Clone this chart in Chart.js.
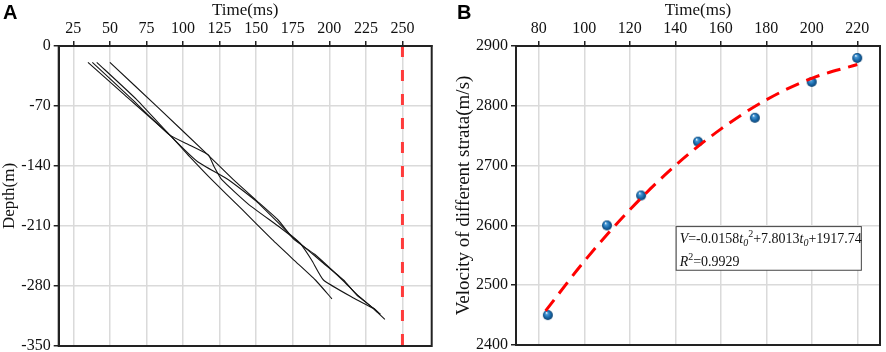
<!DOCTYPE html>
<html>
<head>
<meta charset="utf-8">
<script src="https://cdn.jsdelivr.net/npm/chart.js@4.4.1/dist/chart.umd.min.js"></script>
<style>
  html, body { margin: 0; padding: 0; background: #fff; }
  #wrap { position: relative; width: 886px; height: 352px; }
  canvas { position: absolute; top: 0; }
  #chartA { left: 0; }
  #chartB { left: 440px; }
</style>
</head>
<body>
<div id="wrap">
  <canvas id="chartA" width="440" height="352"></canvas>
  <canvas id="chartB" width="446" height="352"></canvas>
</div>
<script>
// ---- panel A: depth vs. first-arrival time ----
const timeTicksA = [25, 50, 75, 100, 125, 150, 175, 200, 225, 250];
const depthTicks = [-350, -280, -210, -140, -70, 0];

const trace1Time  = [35, 60, 91, 105, 119.6, 140, 161, 176, 190.5, 201.8];
const trace1Depth = [-19, -57, -104, -130, -156, -190, -226, -250, -273, -295];

const trace2Time  = [50, 83, 117, 134.4, 150, 165, 176, 190, 209, 219, 230, 238];
const trace2Depth = [-19, -72, -127, -156, -180, -203, -226, -243, -273, -290, -306, -319];

const trace3Time  = [38, 65, 91, 105, 117.3, 121, 126.5, 145, 165, 177, 195, 209.7, 218.8, 230.3, 235];
const trace3Depth = [-19, -62, -104, -116, -127, -140, -156, -185, -210, -226, -252, -273, -290.5, -306, -313];

const trace4Time  = [41, 68, 91, 110, 131, 150, 172, 180, 188, 196, 216.5, 230, 233];
const trace4Depth = [-19, -62, -104, -135, -156, -181, -218, -230, -250, -273, -294, -306, -311];

const limitTime  = [250, 250];
const limitDepth = [0, -350];

// ---- panel B: stratum velocity vs. time ----
const timeTicksB = [80, 100, 120, 140, 160, 180, 200, 220];
const velTicks   = [2400, 2500, 2600, 2700, 2800, 2900];

const layerTime = [84, 110, 125, 150, 175, 200, 220];
const layerVel  = [2450, 2600, 2650, 2740, 2780, 2840, 2880];

const fitTime = [83, 100, 120, 140, 160, 180, 200, 220];
const fitVel  = [2457, 2540, 2626, 2700, 2761, 2810, 2846, 2869];

const SERIF = "'Liberation Serif', 'Times New Roman', serif";
const SANS = "'Liberation Sans', Arial, sans-serif";

const pairs = (xs, ys) => xs.map((x, i) => ({ x: x, y: ys[i] }));
const setTicks = arr => scale => { scale.ticks = arr.map(v => ({ value: v })); };

function makeBall(r) {
  const c = document.createElement("canvas");
  c.width = c.height = 2 * r + 2;
  const g = c.getContext("2d");
  const cx = r + 1, cy = r + 1;
  const grad = g.createRadialGradient(cx - r * 0.3, cy - r * 0.45, r * 0.05, cx, cy, r);
  grad.addColorStop(0, "#f4fbff");
  grad.addColorStop(0.22, "#4a9ad6");
  grad.addColorStop(0.65, "#1767a8");
  grad.addColorStop(1, "#0c416f");
  g.fillStyle = grad;
  g.beginPath();
  g.arc(cx, cy, r, 0, Math.PI * 2);
  g.fill();
  return c;
}

function frameAndLetter(letter, lx) {
  return {
    id: "frame" + letter,
    afterDraw(chart) {
      const { ctx, chartArea: a } = chart;
      ctx.save();
      ctx.strokeStyle = "#222";
      ctx.lineWidth = 2;
      ctx.strokeRect(a.left, a.top, a.right - a.left, a.bottom - a.top);
      ctx.fillStyle = "#000";
      ctx.font = "bold 20px " + SANS;
      ctx.textBaseline = "alphabetic";
      ctx.fillText(letter, lx, 18.5);
      ctx.restore();
    }
  };
}

function axisX(ticks, min, max, height) {
  return {
    type: "linear",
    position: "top",
    min: min,
    max: max,
    afterBuildTicks: setTicks(ticks),
    afterFit: s => { s.height = height; s.paddingLeft = 0; s.paddingRight = 0; },
    grid: { color: "#dadada", lineWidth: 1.5, tickColor: "#222", tickLength: 5, tickWidth: 1.5 },
    border: { color: "#222", width: 2 },
    ticks: { color: "#111", font: { family: SERIF, size: 16 }, padding: 3, maxRotation: 0, autoSkip: false },
    title: { display: true, text: "Time(ms)", color: "#111", font: { family: SERIF, size: 17 }, padding: { top: 0, bottom: 0 } }
  };
}

function axisY(ticks, min, max, width, text, titleSize, titlePad) {
  return {
    type: "linear",
    position: "left",
    min: min,
    max: max,
    afterBuildTicks: setTicks(ticks),
    afterFit: s => { s.width = width; s.paddingTop = 0; s.paddingBottom = 0; },
    grid: { color: "#dadada", lineWidth: 1.5, tickColor: "#222", tickLength: 5, tickWidth: 1.5 },
    border: { color: "#222", width: 2 },
    ticks: { color: "#111", font: { family: SERIF, size: 16 }, padding: 3, autoSkip: false, callback: v => String(v) },
    title: { display: true, text: text, color: "#111", font: { family: SERIF, size: titleSize, lineHeight: 1 }, padding: { top: titlePad, bottom: 0 } }
  };
}

const traceStyle = {
  showLine: true,
  borderColor: "#151515",
  borderWidth: 1.1,
  pointRadius: 0,
  tension: 0.15,
  fill: false
};

new Chart(document.getElementById("chartA"), {
  type: "scatter",
  data: {
    datasets: [
      { label: "limit", data: pairs(limitTime, limitDepth), showLine: true, borderColor: "#ff3b3b", borderWidth: 3, borderDash: [11, 13], pointRadius: 0 },
      Object.assign({ label: "trace 1", data: pairs(trace1Time, trace1Depth) }, traceStyle),
      Object.assign({ label: "trace 2", data: pairs(trace2Time, trace2Depth) }, traceStyle),
      Object.assign({ label: "trace 3", data: pairs(trace3Time, trace3Depth) }, traceStyle),
      Object.assign({ label: "trace 4", data: pairs(trace4Time, trace4Depth) }, traceStyle)
    ]
  },
  options: {
    responsive: false,
    animation: false,
    layout: { padding: { left: 0, top: 0, right: 8.3, bottom: 6 } },
    plugins: { legend: { display: false }, tooltip: { enabled: false } },
    scales: {
      x: axisX(timeTicksA, 15, 270, 46),
      y: axisY(depthTicks, -350, 0, 58.7, "Depth(m)", 17, 1)
    }
  },
  plugins: [frameAndLetter("A", 3)]
});

const equationBox = {
  id: "equationBox",
  afterDraw(chart) {
    const { ctx, scales: { x, y } } = chart;
    const left = x.getPixelForValue(140.4), right = x.getPixelForValue(221.8);
    const top = y.getPixelForValue(2598), bottom = y.getPixelForValue(2525);
    ctx.save();
    ctx.fillStyle = "#fff";
    ctx.fillRect(left, top, right - left, bottom - top);
    ctx.strokeStyle = "#444";
    ctx.lineWidth = 1;
    ctx.strokeRect(left, top, right - left, bottom - top);
    ctx.fillStyle = "#111";
    ctx.textBaseline = "alphabetic";
    const drawRich = (parts, x0, base) => {
      let cx = x0;
      parts.forEach(p => {
        const size = p.small ? 10 : 14;
        ctx.font = (p.italic ? "italic " : "") + size + "px " + SERIF;
        const dy = p.sub ? 3.5 : (p.sup ? -6 : 0);
        ctx.fillText(p.t, cx, base + dy);
        cx += ctx.measureText(p.t).width;
      });
    };
    drawRich([
      { t: "V", italic: true }, { t: "=-0.0158" },
      { t: "t", italic: true }, { t: "0", italic: true, small: true, sub: true }, { t: "2", small: true, sup: true },
      { t: "+7.8013" },
      { t: "t", italic: true }, { t: "0", italic: true, small: true, sub: true },
      { t: "+1917.74" }
    ], left + 3.5, top + 16);
    drawRich([
      { t: "R", italic: true }, { t: "2", small: true, sup: true }, { t: "=0.9929" }
    ], left + 3.5, top + 39.5);
    ctx.restore();
  }
};

new Chart(document.getElementById("chartB"), {
  type: "scatter",
  data: {
    datasets: [
      { label: "fit", data: pairs(fitTime, fitVel), showLine: true, borderColor: "#ff0000", borderWidth: 3, borderDash: [14, 8], pointRadius: 0, cubicInterpolationMode: "monotone" },
      { label: "strata", data: pairs(layerTime, layerVel), pointStyle: makeBall(5), pointRadius: 5, showLine: false }
    ]
  },
  options: {
    responsive: false,
    animation: false,
    layout: { padding: { left: 0, top: 0, right: 3.3, bottom: 7 } },
    plugins: { legend: { display: false }, tooltip: { enabled: false } },
    scales: {
      x: axisX(timeTicksB, 70, 230, 46),
      y: axisY(velTicks, 2400, 2900, 76, "Velocity of different strata(m/s)", 19, 14.5)
    }
  },
  plugins: [frameAndLetter("B", 17), equationBox]
});
</script>
</body>
</html>
